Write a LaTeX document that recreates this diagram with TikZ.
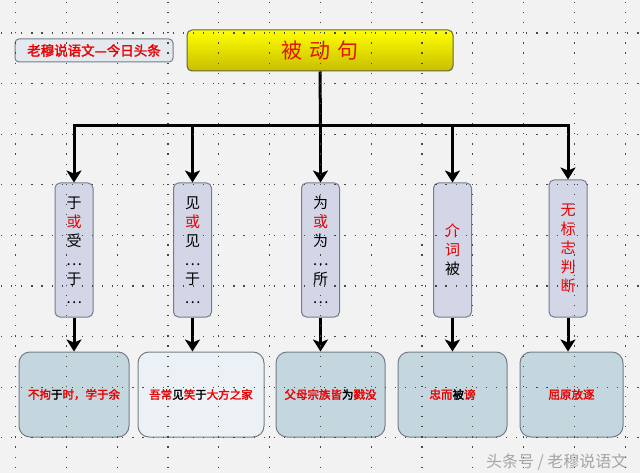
\documentclass[tikz,border=0pt]{standalone}
\usepackage{fontspec}
\setmainfont{Noto Sans CJK SC}[AutoFakeBold=2]
\usetikzlibrary{arrows.meta}
\definecolor{bg}{RGB}{242,242,242}
\definecolor{griddot}{RGB}{70,70,70}
\definecolor{tred}{RGB}{235,0,0}
\definecolor{vfill}{RGB}{210,214,230}
\definecolor{bfill}{RGB}{196,214,222}
\definecolor{bfilltwo}{RGB}{236,241,245}
\definecolor{edge}{RGB}{115,125,135}
\definecolor{foot}{RGB}{165,165,165}
\tikzset{
  vbox/.style={draw=edge, line width=1pt, fill=vfill, rounded corners=5pt,
    minimum width=38pt, inner sep=0pt, align=center,
    font=\fontsize{15}{19}\selectfont},
  bbox/.style={draw=edge, line width=1pt, fill=bfill, rounded corners=11pt,
    minimum height=85pt, inner sep=0pt, font=\bfseries\fontsize{11.5}{13}\selectfont, text=tred},
  conn/.style={line width=3pt, black},
  arr/.style={conn, -{Stealth[length=12pt,width=15pt,inset=3pt]}},
  gridv/.style={griddot, line width=1.2pt, dash pattern=on 1.2pt off 8.9pt},
}
\newcommand{\bk}[1]{\textcolor{black}{#1}}
\newcommand{\rd}[1]{\textcolor{tred}{#1}}
\begin{document}
\begin{tikzpicture}[x=1pt,y=-1pt]
\fill[bg] (0,0) rectangle (640,473);
\useasboundingbox (0,0) rectangle (640,473);

% title and label
\node[draw={rgb,255:red,100;green,100;blue,60}, line width=1pt, rounded corners=5pt,
  top color=yellow, bottom color={rgb,255:red,200;green,190;blue,0},
  minimum width=266pt, minimum height=41pt, inner sep=0pt,
  font=\fontsize{21}{24}\selectfont, text={rgb,255:red,225;green,20;blue,0}] (title) at (320,50.5) {被\,\,动\,\,句};
\node[draw=edge, line width=1pt, fill={rgb,255:red,228;green,233;blue,240}, rounded corners=4pt,
  minimum width=158pt, minimum height=23pt, inner sep=0pt,
  font=\bfseries\fontsize{13.5}{15}\selectfont, text=tred] (label) at (94,50.5) {老穆说语文—今日头条};

% vertical boxes
\node[vbox, minimum height=134pt] (v1) at (74,250) {于\\\rd{或}\\受\\…\\于\\…};
\node[vbox, minimum height=134pt] (v2) at (192.5,250) {见\\\rd{或}\\见\\…\\于\\…};
\node[vbox, minimum height=134pt] (v3) at (320.5,250) {为\\\rd{或}\\为\\…\\所\\…};
\node[vbox, minimum height=134pt] (v4) at (452.5,250) {\rd{介}\\\rd{词}\\被};
\node[vbox, minimum height=137pt, text=tred] (v5) at (568,248.5) {无\\标\\志\\判\\断};

% bottom boxes
\node[bbox, minimum width=110pt] (b1) at (74,394.5) {不拘\bk{于}时，学于余};
\node[bbox, minimum width=126pt, fill=bfilltwo] (b2) at (201,394.5) {吾常\bk{见}笑\bk{于}大方之家};
\node[bbox, minimum width=109pt] (b3) at (330.5,394.5) {父母宗族皆\bk{为}戮没};
\node[bbox, minimum width=109pt] (b4) at (452.5,394.5) {忠而\bk{被}谤};
\node[bbox, minimum width=103pt] (b5) at (571.5,394.5) {屈原放逐};

% connectors
\coordinate (bus) at (320.5,126);
\draw[conn] (title.south) -- (bus);
\draw[arr] (bus) -| (v1.north);
\draw[arr] (bus) -| (v5.north);
\draw[arr] (v2.north |- bus) -- (v2.north);
\draw[arr] (bus) -- (v3.north);
\draw[arr] (v4.north |- bus) -- (v4.north);
\foreach \i in {1,...,5}{
  \draw[arr] (v\i.south) -- (v\i.south |- b\i.north);
}

% footer
\node[font=\fontsize{16}{18}\selectfont, text=foot, anchor=east] (footer) at (631,462) {头条号 / 老穆说语文};

% dotted grid
\foreach \k in {0,...,12}{
  \draw[gridv] (15.5+50.8*\k,2) -- (15.5+50.8*\k,473);
}
\foreach \k in {0,...,8}{
  \draw[gridv] (1,33+50.6*\k) -- (640,33+50.6*\k);
}
\end{tikzpicture}
\end{document}
